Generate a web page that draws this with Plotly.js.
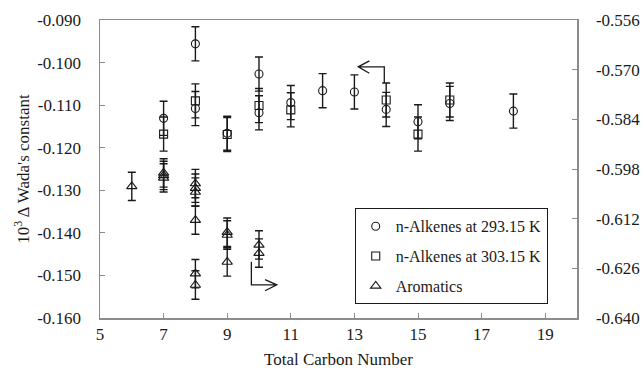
<!DOCTYPE html>
<html>
<head>
<meta charset="utf-8">
<script src="https://cdn.plot.ly/plotly-3.0.1.min.js"></script>
<style>html,body{margin:0;padding:0;background:#fff;}#chart{width:644px;height:376px;}</style>
</head>
<body>
<div id="chart"></div>
<script>
// n-Alkenes at 293.15 K (left axis)
const c293X = [7, 8, 8, 9, 10, 10, 11, 12, 13, 14, 15, 16, 18];
const c293Y = [-0.1131, -0.0956, -0.1108, -0.1166, -0.1027, -0.1118, -0.1094, -0.1066, -0.1069, -0.1110, -0.1139, -0.1096, -0.1114];
const c293Err = [0.004, 0.004, 0.004, 0.004, 0.004, 0.004, 0.004, 0.004, 0.004, 0.004, 0.004, 0.004, 0.004];
// n-Alkenes at 303.15 K (left axis)
const c303X = [7, 8, 9, 10, 11, 14, 15, 16];
const c303Y = [-0.1168, -0.1090, -0.1169, -0.1101, -0.1111, -0.1088, -0.1168, -0.1088];
const c303Err = [0.004, 0.004, 0.004, 0.004, 0.004, 0.004, 0.004, 0.004];
// Aromatics (right axis)
const aroX = [6, 7, 7, 7, 8, 8, 8, 8, 8, 8, 9, 9, 9, 10, 10];
const aroY = [-0.6029, -0.5991, -0.5998, -0.6005, -0.6021, -0.6034, -0.6045, -0.6124, -0.6275, -0.6307, -0.6158, -0.6166, -0.6242, -0.6194, -0.6217];
const aroErr = [0.004, 0.004, 0.004, 0.004, 0.004, 0.004, 0.004, 0.004, 0.004, 0.004, 0.004, 0.004, 0.004, 0.004, 0.004];

const xTicks = [5, 7, 9, 11, 13, 15, 17, 19];
const yTicks = [-0.160, -0.150, -0.140, -0.130, -0.120, -0.110, -0.100, -0.090];
const y2Ticks = [-0.640, -0.626, -0.612, -0.598, -0.584, -0.570, -0.556];

const FONT = '"Liberation Serif", "Times New Roman", serif';
const AX = '#8c8c8c';
const INK = '#1a1a1a';
const TF = {family:FONT, size:17, color:INK};

function errCfg(arr){
  return {type:'data', array:arr, visible:true, color:INK, thickness:1.4, width:4};
}

const traces = [
  {x:c293X, y:c293Y, type:'scatter', mode:'markers', name:'n-Alkenes at 293.15 K',
   marker:{symbol:'circle-open', size:8, color:INK, line:{width:1.1, color:INK}},
   error_y:errCfg(c293Err), yaxis:'y', legendgroup:'a'},
  {x:c303X, y:c303Y, type:'scatter', mode:'markers', name:'n-Alkenes at 303.15 K',
   marker:{symbol:'square-open', size:8, color:INK, line:{width:1.1, color:INK}},
   error_y:errCfg(c303Err), yaxis:'y', legendgroup:'b'},
  {x:aroX, y:aroY, type:'scatter', mode:'markers', name:'Aromatics',
   marker:{symbol:'triangle-up-open', size:9, color:INK, line:{width:1.1, color:INK}},
   error_y:errCfg(aroErr), yaxis:'y2', legendgroup:'c'}
];

// bent arrows (annotation decoration, in left-axis data units)
const arrowL = 'M 13.94 -0.1048 L 13.94 -0.1010 L 13.12 -0.1010 M 13.47 -0.0996 L 13.12 -0.1010 L 13.47 -0.1025';
const arrowR = 'M 9.76 -0.1468 L 9.76 -0.1522 L 10.56 -0.1522 M 10.19 -0.1510 L 10.56 -0.1522 L 10.19 -0.1536';

const layout = {
  width:644, height:376,
  margin:{l:100, r:67, t:20, b:58},
  paper_bgcolor:'#fff', plot_bgcolor:'#fff',
  font:{family:FONT, size:16, color:INK},
  showlegend:true,
  legend:{x:0.534, y:0.368, xanchor:'left', yanchor:'top',
          bgcolor:'#fff', bordercolor:INK, borderwidth:1,
          font:{family:FONT, size:16, color:INK},
          traceorder:'grouped', tracegroupgap:6, itemwidth:30},
  xaxis:{range:[5,20], tickvals:xTicks, ticktext:xTicks.map(String),
         ticks:'inside', ticklen:5, tickcolor:AX, showline:true, linecolor:AX, linewidth:1.5,
         mirror:true, showgrid:false, zeroline:false, ticklabelstandoff:0,
         tickfont:TF,
         title:{text:'Total Carbon Number', font:TF, standoff:10}},
  yaxis:{range:[-0.160,-0.090], tickvals:yTicks, ticktext:yTicks.map(v=>v.toFixed(3)),
         ticks:'inside', ticklen:5, tickcolor:AX, showline:true, linecolor:AX, linewidth:1.5,
         showgrid:false, zeroline:false, ticklabelstandoff:14,
         tickfont:TF,
         title:{text:'10<sup>3</sup> Δ Wada\'s constant', font:TF, standoff:3}},
  yaxis2:{range:[-0.640,-0.556], tickvals:y2Ticks, ticktext:y2Ticks.map(v=>v.toFixed(3)),
          overlaying:'y', side:'right', ticks:'inside', ticklen:5, tickcolor:AX,
          tickfont:TF,
          showline:true, linecolor:AX, linewidth:1.5, showgrid:false, zeroline:false, ticklabelstandoff:14},
  shapes:[
    {type:'path', xref:'x', yref:'y', path:arrowL, line:{color:INK, width:1.3}},
    {type:'path', xref:'x', yref:'y', path:arrowR, line:{color:INK, width:1.3}}
  ]
};

Plotly.newPlot('chart', traces, layout, {staticPlot:true, displayModeBar:false});
</script>
</body>
</html>
